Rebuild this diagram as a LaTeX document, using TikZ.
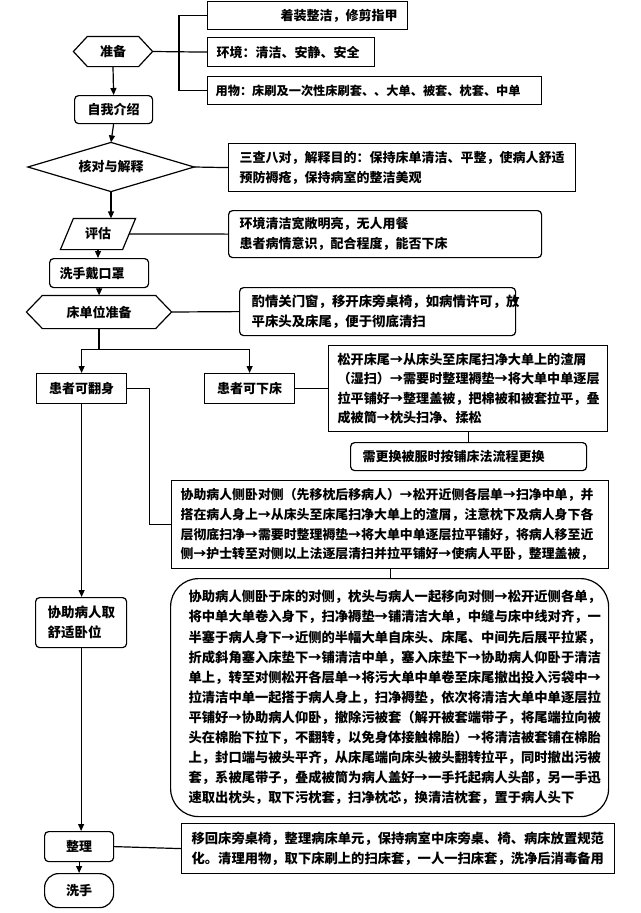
\documentclass[tikz,border=0pt]{standalone}
\usepackage{fontspec}
\setmainfont{Noto Sans CJK SC}
\usetikzlibrary{arrows.meta}
\tikzset{
  base/.style={line width=1.2pt, inner sep=0pt, font=\fontsize{13}{20}\selectfont\bfseries},
  box/.style={base, draw},
  rbox/.style={box, rounded corners=4pt},
  conn/.style={line width=1.2pt},
  arr/.style={conn, -{Triangle[length=7pt,width=6pt]}},
}
% [opts]{name}{x1}{y1}{x2}{y2}{text-left}{text}
\newcommand\MyLBox[8][]{%
  \pgfmathsetmacro\myBW{#5-#3}\pgfmathsetmacro\myBH{#6-#4}\pgfmathsetmacro\myTW{#5-#3-2*(#7-#3)}%
  \node[box,#1,anchor=north west,minimum width=\myBW pt,minimum height=\myBH pt,text width=\myTW pt,align=left] (#2) at (#3,#4) {#8};}
% [opts]{name}{x1}{y1}{x2}{y2}{text}
\newcommand\MyCBox[7][]{%
  \pgfmathsetmacro\myBW{#5-#3}\pgfmathsetmacro\myBH{#6-#4}%
  \node[box,#1,anchor=north west,minimum width=\myBW pt,minimum height=\myBH pt,align=center] (#2) at (#3,#4) {#7};}
\begin{document}
\begin{tikzpicture}[x=1pt,y=-1pt]
\useasboundingbox (0,0) rectangle (640,913);

% ---- top: preparation
\node[box,anchor=north west,minimum width=200pt,minimum height=28pt,text width=180pt,align=right] (n1) at (207,1) {着装整洁，修剪指甲};
\node[base,minimum width=78pt,minimum height=29pt] (prep) at (113,51.5) {准备};
\draw[conn] (prep.west) -- ([xshift=14pt]prep.north west) -- ([xshift=-14pt]prep.north east) -- (prep.east) -- ([xshift=-14pt]prep.south east) -- ([xshift=14pt]prep.south west) -- cycle;
\MyLBox{env}{207}{37}{374}{66}{216}{环境：清洁、安静、安全}
\MyLBox[font=\fontsize{12.2}{20}\selectfont\bfseries]{items}{207}{76}{541}{104}{215}{用物：床刷及一次性床刷套、、大单、被套、枕套、中单}
\MyCBox[rbox]{intro}{74}{95}{152}{123}{自我介绍}

% ---- check
\node[base,minimum width=165pt,minimum height=48pt] (d) at (111,167) {核对与解释};
\draw[conn] (d.west) -- (d.north) -- (d.east) -- (d.south) -- cycle;
\MyLBox{check}{228}{143}{575}{191}{239}{三查八对，解释目的：保持床单清洁、平整，使病人舒适\\预防褥疮，保持病室的整洁美观}

% ---- assess
\node[base,minimum width=74pt,minimum height=30pt] (eval) at (98,234) {评估};
\draw[conn] ([xshift=13pt]eval.north west) -- (eval.north east) -- ([xshift=-13pt]eval.south east) -- (eval.south west) -- cycle;
\MyLBox[rbox]{assess}{228}{210}{541}{257}{239}{环境清洁宽敞明亮，无人用餐\\患者病情意识，配合程度，能否下床}

\MyLBox[rbox]{wash1}{49}{258}{148}{287}{59}{洗手戴口罩}

% ---- bed unit
\node[base,minimum width=144pt,minimum height=32pt] (hex2) at (99,312) {床单位准备};
\draw[conn] (hex2.west) -- ([xshift=16pt]hex2.north west) -- ([xshift=-16pt]hex2.north east) -- (hex2.east) -- ([xshift=-16pt]hex2.south east) -- ([xshift=16pt]hex2.south west) -- cycle;
\MyLBox[rbox,font=\fontsize{13.4}{20}\selectfont\bfseries]{prep2}{239}{287}{515}{335}{251}{酌情关门窗，移开床旁桌椅，如病情许可，放\\平床头及床尾，便于彻底清扫}

\MyCBox{turn}{36}{373}{126}{403}{患者可翻身}
\MyCBox{down}{204}{373}{294}{403}{患者可下床}

\MyLBox[font=\fontsize{13.1}{19.3}\selectfont\bfseries]{downbox}{328}{345}{607}{431}{337}{松开床尾→从床头至床尾扫净大单上的渣屑\\（湿扫）→需要时整理褥垫→将大单中单逐层\\拉平铺好→整理盖被，把棉被和被套拉平，叠\\成被筒→枕头扫净、揉松}
\MyLBox[rbox]{change}{350}{442}{586}{470}{362}{需更换被服时按铺床法流程更换}

\MyLBox[font=\fontsize{12.9}{19.7}\selectfont\bfseries]{side}{171}{480}{608}{568}{180}{协助病人侧卧对侧（先移枕后移病人）→松开近侧各层单→扫净中单，并\\搭在病人身上→从床头至床尾扫净大单上的渣屑，注意枕下及病人身下各\\层彻底扫净→需要时整理褥垫→将大单中单逐层拉平铺好，将病人移至近\\侧→护士转至对侧以上法逐层清扫并拉平铺好→使病人平卧，整理盖被，}

\MyLBox[rounded corners=28pt,font=\fontsize{13.3}{20.1}\selectfont\bfseries]{big}{170}{578}{608}{816}{188}{协助病人侧卧于床的对侧，枕头与病人一起移向对侧→松开近侧各单，\\将中单大单卷入身下，扫净褥垫→铺清洁大单，中缝与床中线对齐，一\\半塞于病人身下→近侧的半幅大单自床头、床尾、中间先后展平拉紧，\\折成斜角塞入床垫下→铺清洁中单，塞入床垫下→协助病人仰卧于清洁\\单上，转至对侧松开各层单→将污大单中单卷至床尾撤出投入污袋中→\\拉清洁中单一起搭于病人身上，扫净褥垫，依次将清洁大单中单逐层拉\\平铺好→协助病人仰卧，撤除污被套（解开被套端带子，将尾端拉向被\\头在棉胎下拉下，不翻转，以免身体接触棉胎）→将清洁被套铺在棉胎\\上，封口端与被头平齐，从床尾端向床头被头翻转拉平，同时撤出污被\\套，系被尾带子，叠成被筒为病人盖好→一手托起病人头部，另一手迅\\速取出枕头，取下污枕套，扫净枕芯，换清洁枕套，置于病人头下}

\MyLBox[rbox,font=\fontsize{13.5}{20}\selectfont\bfseries]{comfort}{35}{597}{126}{647}{47}{协助病人取\\舒适卧位}

\MyCBox[rbox]{tidy}{44}{831}{113}{861}{整理}
\MyLBox[font=\fontsize{13.3}{20}\selectfont\bfseries]{tidybox}{181}{823}{614}{873}{191}{移回床旁桌椅，整理病床单元，保持病室中床旁桌、椅、病床放置规范\\化。清理用物，取下床刷上的扫床套，一人一扫床套，洗净后消毒备用}
\MyCBox[box,rounded corners=14pt]{wash2}{44}{873}{113}{907}{洗手}

% ---- connectors
\draw[conn] (n1.west) -- ++(-28,0) |- (items.west);
\draw[conn] (prep.east) -- (env.west);
\draw[arr] (prep.south) -- (intro.north);
\draw[arr] (intro.south) -- (d.north);
\draw[conn] (d.east) -- (check.west);
\draw[arr] (d.south) -- (d.south |- eval.north);
\draw[conn] ([xshift=-6.5pt]eval.east) -- (assess.west);
\draw[arr] (eval.south) -- (eval.south |- wash1.north);
\draw[arr] (wash1.south) -- (wash1.south |- hex2.north);
\draw[conn] (hex2.east) -- (prep2.west);
\draw[conn] (hex2.south) -- ++(0,21) coordinate (j);
\draw[arr] (j) -| (turn.north);
\draw[arr] (j) -| (down.north);
\draw[conn] (down.east) -- (downbox.west);
\draw[conn] (downbox.south) -- (downbox.south |- change.north);
\draw[conn] (turn.east) -- ++(22,0) |- (side.west);
\draw[conn] (side.south) -- (side.south |- big.north);
\draw[arr] (turn.south) -- (turn.south |- comfort.north);
\draw[arr] (comfort.south) -- (comfort.south |- tidy.north);
\draw[conn] (tidy.east) -- (tidybox.west);
\draw[arr] (tidy.south) -- (tidy.south |- wash2.north);
\end{tikzpicture}
\end{document}
